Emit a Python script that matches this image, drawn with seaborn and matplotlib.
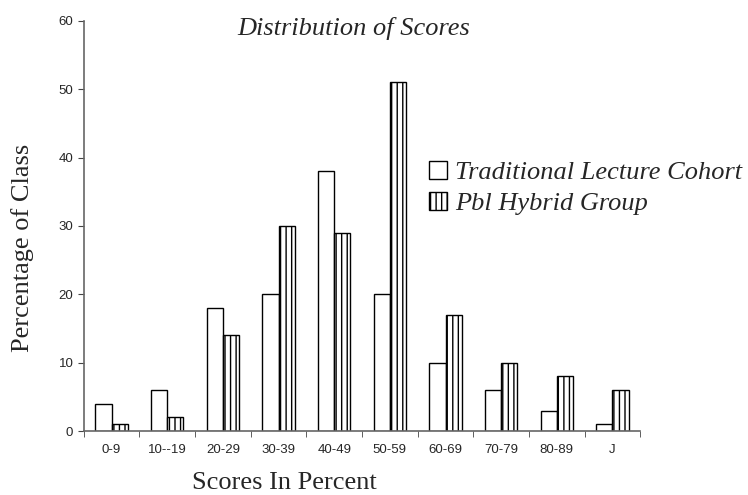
import matplotlib
matplotlib.use("Agg")
import matplotlib.pyplot as plt
import seaborn as sns
import pandas as pd
import numpy as np
from matplotlib.patches import Patch

categories = ["0-9", "10--19", "20-29", "30-39", "40-49", "50-59",
              "60-69", "70-79", "80-89", "J"]
traditional = [4, 6, 18, 20, 38, 20, 10, 6, 3, 1]
pbl = [1, 2, 14, 30, 29, 51, 17, 10, 8, 6]
groups = ["Traditional Lecture Cohort", "Pbl Hybrid Group"]

df = pd.DataFrame({
    "score": categories * 2,
    "pct": traditional + pbl,
    "group": [groups[0]] * len(categories) + [groups[1]] * len(categories),
})

sns.set_style("white")
plt.rcParams["hatch.linewidth"] = 1.0
plt.rcParams["hatch.color"] = "black"

fig = plt.figure(figsize=(7.48, 4.95), dpi=100)
ax = fig.add_axes([0.112, 0.129, 0.744, 0.829])

sns.barplot(data=df, x="score", y="pct", hue="group", order=categories,
            hue_order=groups, palette=["white", "white"], width=0.58,
            edgecolor="black", linewidth=1.0, saturation=1, ax=ax,
            legend=False)

n = len(categories)
for i, p in enumerate(ax.patches[:2 * n]):
    if i >= n:
        p.set_hatch("|||")

ax.set_ylim(0, 60)
ax.set_xlim(-0.5, n - 0.5)
ax.set_yticks(np.arange(0, 61, 10))
ax.set_xticks(range(n))
ax.set_xticklabels(categories)
ax.set_xticks(np.arange(-0.5, n, 1), minor=True)

for s in ["top", "right"]:
    ax.spines[s].set_visible(False)
for s in ["left", "bottom"]:
    ax.spines[s].set_color("#666666")
    ax.spines[s].set_linewidth(1.2)

ax.tick_params(axis="x", which="major", length=0, pad=9, labelsize=9.5)
ax.tick_params(axis="x", which="minor", length=4, color="#444444", bottom=True)
ax.tick_params(axis="y", length=4, color="#444444", left=True, labelsize=9.5)
for t in ax.get_xticklabels() + ax.get_yticklabels():
    t.set_fontfamily("Liberation Sans")
ax.set_xlabel("")
ax.set_ylabel("")

fig.text(284 / 748, 1 - 483 / 495, "Scores In Percent",
         fontfamily="Liberation Serif", fontsize=19, ha="center", va="center")
fig.text(23 / 748, 1 - 248 / 495, "Percentage of Class",
         fontfamily="Liberation Serif", fontsize=19, rotation=90,
         ha="center", va="center")
fig.text(354 / 748, 1 - 28 / 495, "Distribution of Scores",
         fontfamily="Liberation Serif", style="italic", fontsize=19,
         ha="center", va="center")

handles = [Patch(facecolor="white", edgecolor="black", linewidth=1.0),
           Patch(facecolor="white", edgecolor="black", linewidth=1.0,
                 hatch="|||")]
fig.legend(handles, groups, loc="upper left",
           bbox_to_anchor=(429 / 748, 1 - 161 / 495),
           frameon=False, handlelength=0.68, handleheight=0.65,
           handletextpad=0.3, labelspacing=0.3, borderpad=0,
           borderaxespad=0,
           prop={"family": "Liberation Serif", "style": "italic", "size": 19})

fig.savefig("out.png", dpi=100)
